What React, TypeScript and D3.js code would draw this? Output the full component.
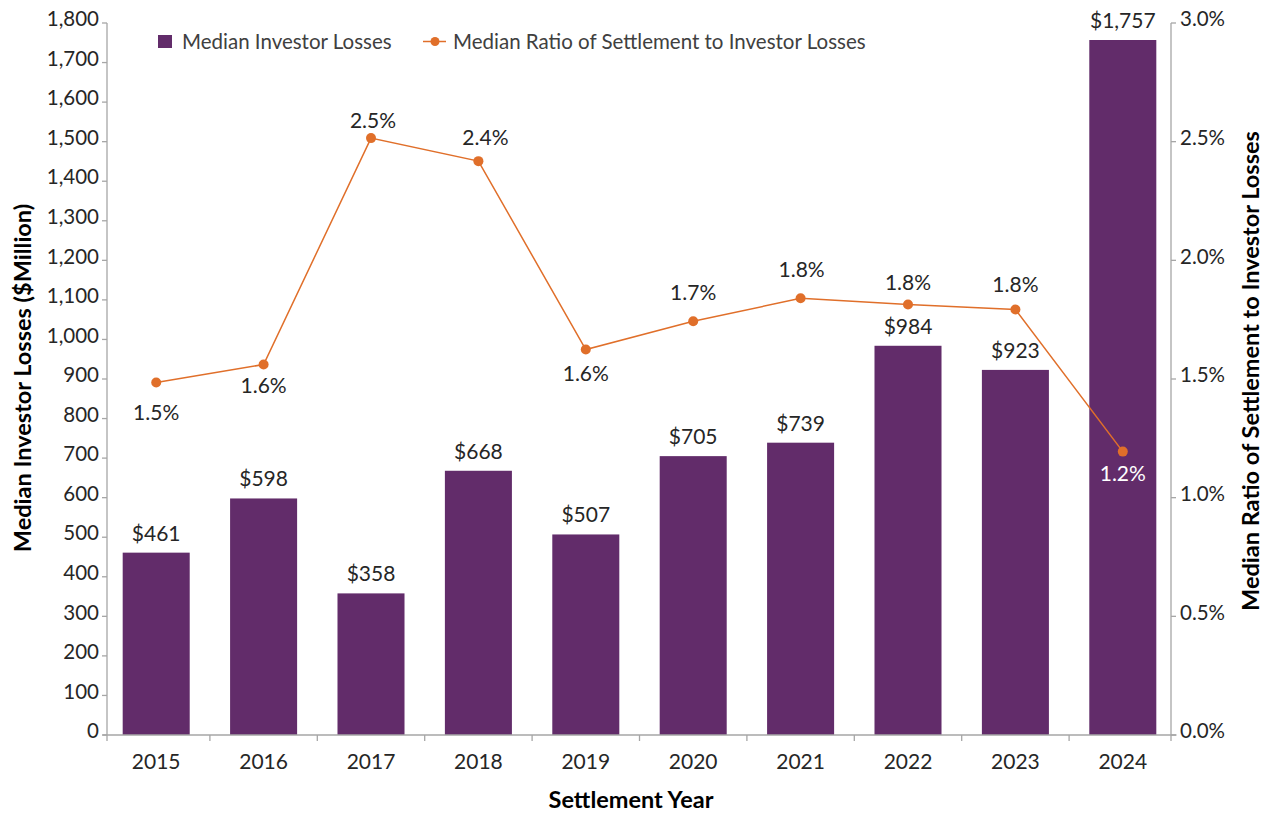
import React from "react";
import * as d3 from "d3";

const years = ["2015", "2016", "2017", "2018", "2019", "2020", "2021", "2022", "2023", "2024"];
const losses = [461, 598, 358, 668, 507, 705, 739, 984, 923, 1757];
const ratios = [1.485, 1.561, 2.515, 2.418, 1.624, 1.743, 1.84, 1.814, 1.793, 1.194];
const ratioLabels = ["1.5%", "1.6%", "2.5%", "2.4%", "1.6%", "1.7%", "1.8%", "1.8%", "1.8%", "1.2%"];
const leftTicks = [0, 100, 200, 300, 400, 500, 600, 700, 800, 900, 1000, 1100, 1200, 1300, 1400, 1500, 1600, 1700, 1800];
const rightTicks = [0, 0.5, 1.0, 1.5, 2.0, 2.5, 3.0];

// label placement (vertical offset of label centre from point)
const ratioLabelDy = [30, 21, -17, -23, 24, -29, -29, -22, -25, 22];
const ratioLabelDx = [0, 0, 2, 7, 0, 0, 1, 0, 0, 0];

const W = 1268;
const H = 813;
const left = 107;
const right = 1171;
const top = 23;
const bottom = 735;

const BAR = "#622C6A";
const LINE = "#E06F2A";
const AXIS = "#A6A6A6";
const TXT = "#262626";
const LEG = "#404040";
const FONT = "Lato, 'Open Sans', sans-serif";

export default function App() {
  const x = d3.scaleBand<string>().domain(years).range([102.5, 1176.5]).paddingInner(0.376).paddingOuter(0.188);
  const y = d3.scaleLinear().domain([0, 1800]).range([bottom, top]);
  const yr = d3.scaleLinear().domain([0, 3]).range([bottom, top]);
  const cx = (d: string) => (x(d) as number) + x.bandwidth() / 2;

  const line = d3
    .line<number>()
    .x((_, i) => cx(years[i]))
    .y((v) => yr(v));

  const fmtL = d3.format(",");
  const fmtR = (v: number) => v.toFixed(1) + "%";

  const boundaries = years.map((d) => (x(d) as number) - (x.step() - x.bandwidth()) / 2).slice(1);

  return (
    <svg width={W} height={H} style={{ position: "absolute", left: 0, top: 0, background: "#fff" }} fontFamily={FONT}>
      {/* bars */}
      {years.map((d, i) => (
        <rect key={d} x={x(d)} y={y(losses[i])} width={x.bandwidth()} height={bottom - y(losses[i])} fill={BAR} />
      ))}
      {/* bar labels */}
      {years.map((d, i) => (
        <text key={"bl" + d} x={cx(d)} y={y(losses[i]) - 12} textAnchor="middle" fontSize={21} fill={TXT}>
          {"$" + fmtL(losses[i])}
        </text>
      ))}

      {/* axes */}
      <line x1={left} x2={left} y1={top} y2={bottom + 6} stroke={AXIS} strokeWidth={1.3} />
      <line x1={right} x2={right} y1={top} y2={bottom + 6} stroke={AXIS} strokeWidth={1.3} />
      <line x1={102.5} x2={1176.5} y1={bottom} y2={bottom} stroke={AXIS} strokeWidth={1.3} />
      {leftTicks.map((t) => (
        <g key={"lt" + t}>
          <line x1={left - 5} x2={left} y1={y(t)} y2={y(t)} stroke={AXIS} strokeWidth={1.3} />
          <text x={99} y={y(t) - 4} dy="0.35em" textAnchor="end" fontSize={20.5} fill={TXT}>
            {fmtL(t)}
          </text>
        </g>
      ))}
      {rightTicks.map((t) => (
        <g key={"rt" + t}>
          <line x1={right} x2={right + 5} y1={yr(t)} y2={yr(t)} stroke={AXIS} strokeWidth={1.3} />
          <text x={1180} y={yr(t) - 4} dy="0.35em" textAnchor="start" fontSize={20.5} fill={TXT}>
            {fmtR(t)}
          </text>
        </g>
      ))}
      {boundaries.map((b, i) => (
        <line key={"xt" + i} x1={b} x2={b} y1={bottom} y2={bottom + 6} stroke={AXIS} strokeWidth={1.3} />
      ))}
      {years.map((d) => (
        <text key={"xl" + d} x={cx(d)} y={762} dy="0.35em" textAnchor="middle" fontSize={21} fill={TXT}>
          {d}
        </text>
      ))}

      {/* line */}
      <path d={line(ratios) || ""} fill="none" stroke={LINE} strokeWidth={1.5} />
      {ratios.map((v, i) => (
        <circle key={"pt" + i} cx={cx(years[i])} cy={yr(v)} r={5} fill={LINE} />
      ))}
      {ratios.map((v, i) => (
        <text
          key={"pl" + i}
          x={cx(years[i]) + ratioLabelDx[i]}
          y={yr(v) + ratioLabelDy[i]}
          dy="0.35em"
          textAnchor="middle"
          fontSize={21}
          fill={i === years.length - 1 ? "#ffffff" : TXT}
        >
          {ratioLabels[i]}
        </text>
      ))}

      {/* axis titles */}
      <text transform={`translate(31,378) rotate(-90)`} textAnchor="middle" fontSize={23.5} fontWeight="bold" fill="#000">
        Median Investor Losses ($Million)
      </text>
      <text transform={`translate(1259,371) rotate(-90)`} textAnchor="middle" fontSize={23.5} fontWeight="bold" fill="#000">
        Median Ratio of Settlement to Investor Losses
      </text>
      <text x={631} y={808} textAnchor="middle" fontSize={23.5} fontWeight="bold" fill="#000">
        Settlement Year
      </text>

      {/* legend */}
      <rect x={158} y={35} width={14} height={13} fill={BAR} />
      <text x={182} y={41.5} dy="0.35em" fontSize={20.5} fill={LEG}>
        Median Investor Losses
      </text>
      <line x1={423} x2={446} y1={41.5} y2={41.5} stroke={LINE} strokeWidth={1.5} />
      <circle cx={435} cy={41.5} r={4.5} fill={LINE} />
      <text x={453} y={41.5} dy="0.35em" fontSize={20.5} fill={LEG}>
        Median Ratio of Settlement to Investor Losses
      </text>
    </svg>
  );
}
